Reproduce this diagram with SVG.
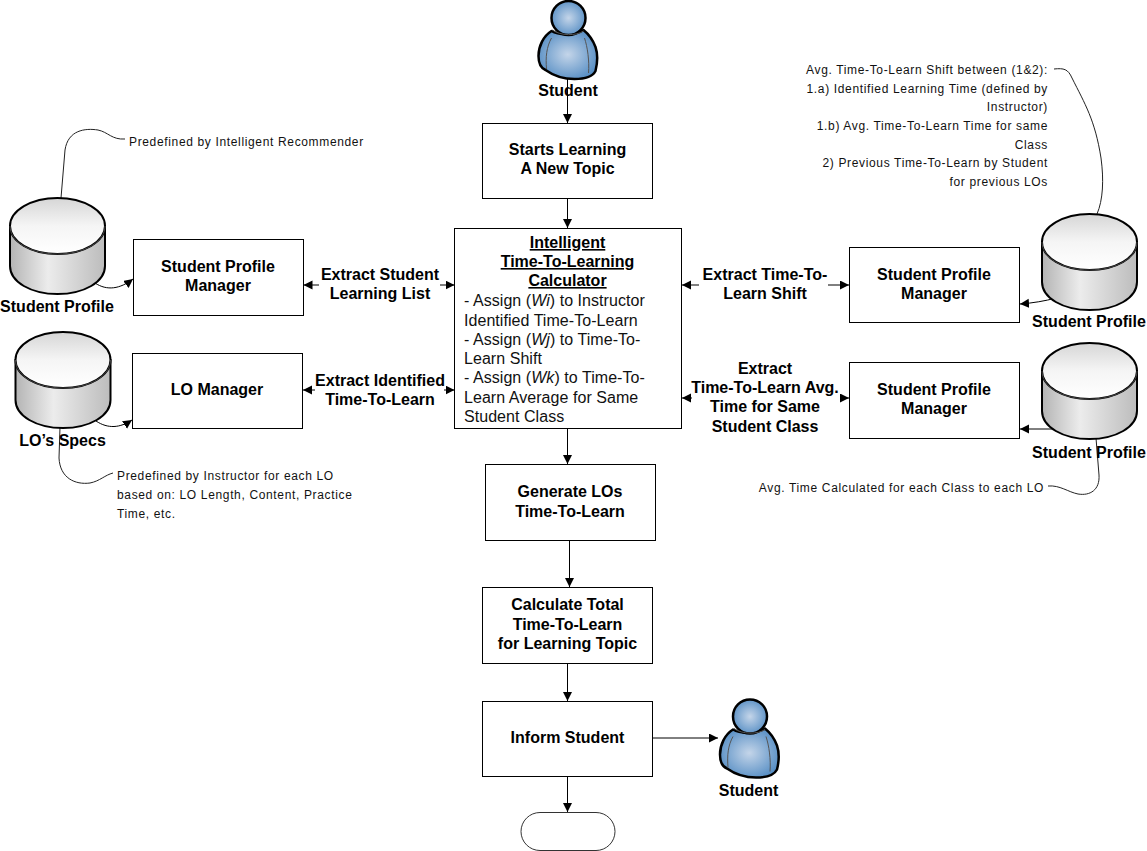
<svg xmlns="http://www.w3.org/2000/svg" xmlns:xlink="http://www.w3.org/1999/xlink" width="1147" height="851" viewBox="0 0 1147 851">
<style>
text{font-family:"Liberation Sans",Arial,sans-serif;fill:#000}
.b{font-size:16px;font-weight:bold;text-anchor:middle}
.c{font-size:16px;fill:#111;letter-spacing:.05px}
.n{font-size:12px;letter-spacing:.65px;fill:#111}
.r{text-anchor:end}
.box{fill:#fff;stroke:#000;stroke-width:1}
.ln{fill:none;stroke:#000;stroke-width:1}
.call{fill:none;stroke:#222;stroke-width:1}
.ah{fill:none;stroke:#000;stroke-width:1;marker-end:url(#a)}
</style>
<defs>
<marker id="a" markerUnits="userSpaceOnUse" markerWidth="10" markerHeight="10" refX="9" refY="4.5" orient="auto"><path d="M0 0L9 4.500L0 9Z" fill="#000"/></marker>
<linearGradient id="cylTop" x1="0" y1="0" x2="0" y2="1"><stop offset="0" stop-color="#d6d6d6"/><stop offset=".5" stop-color="#f5f5f5"/><stop offset="1" stop-color="#fff"/></linearGradient>
<linearGradient id="cylSide" x1="0" y1="0" x2="1" y2="0"><stop offset="0" stop-color="#b4b4b4"/><stop offset=".4" stop-color="#ececec"/><stop offset="1" stop-color="#bcbcbc"/></linearGradient>
<radialGradient id="blue" cx=".5" cy=".5" r=".62"><stop offset="0" stop-color="#c4d5e9"/><stop offset="1" stop-color="#4a86c0"/></radialGradient>
<g id="cyl">
<path d="M0 28V68C0 84 21 96 47.500 96S95 84 95 68V28Z" fill="url(#cylSide)" stroke="#000" stroke-width="2"/>
<ellipse cx="47.500" cy="28" rx="47.500" ry="28" fill="url(#cylTop)" stroke="#000" stroke-width="2"/>
<path d="M0 28C0 44 21 56 47.500 56S95 44 95 28" fill="none" stroke="#444" stroke-width="1"/>
</g>
<g id="user">
<path d="M13 30C5 35 0 45 0 55C0 63 2 67 7 69C14 74 24 78 36 78C46 78 54 76 57 70C59 62 59 52 57 46C54 38 50 33 45 29C38 34 21 35 13 30Z" fill="url(#blue)" stroke="#000" stroke-width="2.500" stroke-linejoin="round"/>
<circle cx="30" cy="17" r="17" fill="url(#blue)" stroke="#000" stroke-width="2.500"/>
<path d="M13 37C8 46 7 56 8 68M46 37C49 46 51 60 50 72M14 29C22 35 38 35 45 30" fill="none" stroke="#555" stroke-width="1"/>
</g>
</defs>

<g id="connectors">
<path class="ah" d="M567.500 78V123"/>
<path class="ah" d="M567.500 198V228"/>
<path class="ah" d="M567.500 428V464"/>
<path class="ah" d="M569.500 540V587"/>
<path class="ah" d="M567.500 663V701"/>
<path class="ah" d="M567.500 776V812"/>
<path class="ah" d="M652 738H718"/>
<path class="ah" d="M319 285H303.500"/>
<path class="ah" d="M440 285H454.500"/>
<path class="ah" d="M315 390H303"/>
<path class="ah" d="M444 390H454.500"/>
<path class="ah" d="M699 285H682"/>
<path class="ah" d="M828 285H849"/>
<path class="ah" d="M692 398H682"/>
<path class="ah" d="M842 398H849"/>
<path class="ah" d="M95 283C107 291 120 289 133 279"/>
<path class="ah" d="M96 421C108 429 120 428 132 420"/>
<path class="ah" d="M1056 298C1045 301 1033 303 1020 304"/>
<path class="ah" d="M1052 429H1020" stroke-width="1.500"/>
<path class="call" d="M61 198L65 150C68 130 85 128 98 130C108 132 112 140 125 139"/>
<path class="call" d="M60 427L59 458C60 478 75 485 90 483C100 481 105 475 113 473"/>
<path class="call" d="M1054 69C1064 68 1068 69 1072 78C1085 104 1095 120 1101 158C1104 180 1103 200 1097 214"/>
<path class="call" d="M1096 438L1099 475C1100 490 1090 496 1078 494C1068 492 1060 485 1048 486"/>
</g>

<g id="student-top"><use xlink:href="#user" href="#user" x="538.500" y="1"/><text class="b" x="568" y="96">Student</text></g>
<g id="starts"><rect class="box" x="482.500" y="123.500" width="170" height="75"/><text class="b" x="567.500" y="155">Starts Learning</text><text class="b" x="567.500" y="174">A New Topic</text></g>
<g id="calculator"><rect class="box" x="454.500" y="228.500" width="227" height="200"/>
<text class="b" x="567.500" y="248" text-decoration="underline">Intelligent</text>
<text class="b" x="567.500" y="267" text-decoration="underline">Time-To-Learning</text>
<text class="b" x="567.500" y="286" text-decoration="underline">Calculator</text>
<text class="c" x="464" y="306">- Assign (<tspan font-style="italic">Wi</tspan>) to Instructor</text>
<text class="c" x="464" y="326">Identified Time-To-Learn</text>
<text class="c" x="464" y="345">- Assign (<tspan font-style="italic">Wj</tspan>) to Time-To-</text>
<text class="c" x="464" y="364">Learn Shift</text>
<text class="c" x="464" y="383">- Assign (<tspan font-style="italic">Wk</tspan>) to Time-To-</text>
<text class="c" x="464" y="403">Learn Average for Same</text>
<text class="c" x="464" y="422">Student Class</text></g>
<g id="spm-left"><rect class="box" x="133.500" y="239.500" width="170" height="76"/><text class="b" x="218" y="272">Student Profile</text><text class="b" x="218" y="291">Manager</text></g>
<g id="lo-manager"><rect class="box" x="132.500" y="353.500" width="170" height="75"/><text class="b" x="217" y="395">LO Manager</text></g>
<g id="spm-right1"><rect class="box" x="849.500" y="247.500" width="170" height="75"/><text class="b" x="934" y="280">Student Profile</text><text class="b" x="934" y="299">Manager</text></g>
<g id="spm-right2"><rect class="box" x="849.500" y="362.500" width="170" height="76"/><text class="b" x="934" y="395">Student Profile</text><text class="b" x="934" y="414">Manager</text></g>
<g id="generate"><rect class="box" x="485.500" y="464.500" width="170" height="76"/><text class="b" x="570" y="497">Generate LOs</text><text class="b" x="570" y="517">Time-To-Learn</text></g>
<g id="calculate"><rect class="box" x="482.500" y="587.500" width="170" height="76"/><text class="b" x="567.500" y="610">Calculate Total</text><text class="b" x="567.500" y="630">Time-To-Learn</text><text class="b" x="567.500" y="649">for Learning Topic</text></g>
<g id="inform"><rect class="box" x="482.500" y="701.500" width="170" height="75"/><text class="b" x="567.500" y="743">Inform Student</text></g>
<g id="student-bottom"><use xlink:href="#user" href="#user" x="720" y="699.500"/><text class="b" x="748.500" y="796">Student</text></g>
<g id="terminator"><rect x="521" y="812.500" width="94" height="38" rx="19" fill="#fff" stroke="#333"/></g>

<g id="db-left1"><use xlink:href="#cyl" href="#cyl" x="10" y="198"/><text class="b" x="57" y="312">Student Profile</text></g>
<g id="db-left2"><use xlink:href="#cyl" href="#cyl" x="15.500" y="332"/><text class="b" x="62.500" y="446">LO’s Specs</text></g>
<g id="db-right1"><use xlink:href="#cyl" href="#cyl" x="1042" y="214"/><text class="b" x="1089" y="327">Student Profile</text></g>
<g id="db-right2"><use xlink:href="#cyl" href="#cyl" x="1042" y="343"/><text class="b" x="1089" y="458">Student Profile</text></g>

<g id="labels">
<text class="b" x="380" y="280">Extract Student</text><text class="b" x="380" y="299">Learning List</text>
<text class="b" x="380" y="386">Extract Identified</text><text class="b" x="380" y="405">Time-To-Learn</text>
<text class="b" x="765" y="280">Extract Time-To-</text><text class="b" x="765" y="299">Learn Shift</text>
<text class="b" x="765" y="374">Extract</text><text class="b" x="765" y="393">Time-To-Learn Avg.</text><text class="b" x="765" y="412">Time for Same</text><text class="b" x="765" y="432">Student Class</text>
<text class="n" x="129" y="146">Predefined by Intelligent Recommender</text>
<text class="n" x="117" y="480">Predefined by Instructor for each LO</text>
<text class="n" x="117" y="499">based on: LO Length, Content, Practice</text>
<text class="n" x="117" y="518">Time, etc.</text>
<text class="n r" x="1048" y="74">Avg. Time-To-Learn Shift between (1&amp;2):</text>
<text class="n r" x="1048" y="93">1.a) Identified Learning Time (defined by</text>
<text class="n r" x="1048" y="111">Instructor)</text>
<text class="n r" x="1048" y="130">1.b) Avg. Time-To-Learn Time for same</text>
<text class="n r" x="1048" y="149">Class</text>
<text class="n r" x="1048" y="167">2) Previous Time-To-Learn by Student</text>
<text class="n r" x="1048" y="186">for previous LOs</text>
<text class="n r" x="1044" y="492">Avg. Time Calculated for each Class to each LO</text>
</g>
</svg>
